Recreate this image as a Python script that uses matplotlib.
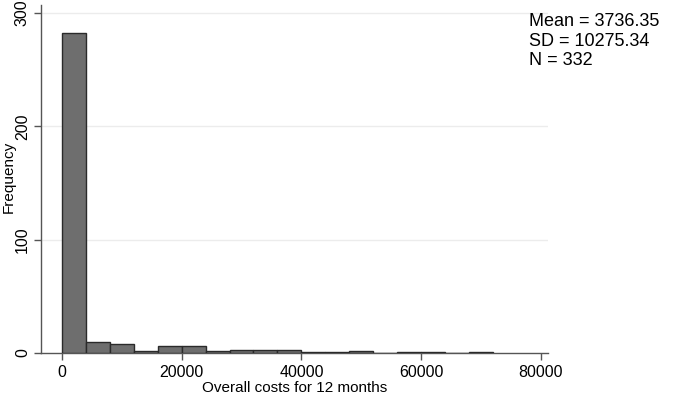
import matplotlib
matplotlib.use("Agg")
import matplotlib.pyplot as plt
import numpy as np

bin_edges = [0, 4000, 8000, 12000, 16000, 20000, 24000, 28000, 32000, 36000,
             40000, 44000, 48000, 52000, 56000, 60000, 64000, 68000, 72000]
counts = [282, 10, 8, 2, 6, 6, 2, 3, 3, 3, 1, 1, 2, 0, 1, 1, 0, 1]
xticks = [0, 20000, 40000, 60000, 80000]
yticks = [0, 100, 200, 300]
stats_text = "Mean = 3736.35\nSD = 10275.34\nN = 332"

plt.rcParams['font.family'] = ['Liberation Sans', 'DejaVu Sans']

fig = plt.figure(figsize=(6.85, 3.95), dpi=100)
ax = fig.add_axes([41/685, 1-353/395, (548-41)/685, (353-5)/395])

lefts = bin_edges[:-1]
widths = np.diff(bin_edges)
ax.bar(lefts, counts, width=widths, align='edge', color='#6e6e6e',
       edgecolor='#2a2a2a', linewidth=1.0, zorder=3)

ax.set_xlim(-3500, 81200)
ax.set_ylim(0, 307)
ax.set_xticks(xticks)
ax.set_yticks(yticks)
ax.set_yticklabels([str(v) for v in yticks], rotation=90, va='center')
ax.tick_params(axis='both', labelsize=11.5, color='#555555', length=5, width=1)
ax.tick_params(axis='y', pad=3)
for y in yticks[1:]:
    ax.axhline(y, color='#ececec', linewidth=1, zorder=1)
for s in ['top', 'right']:
    ax.spines[s].set_visible(False)
for s in ['left', 'bottom']:
    ax.spines[s].set_color('#555555')
    ax.spines[s].set_linewidth(1)

ax.set_xlabel("Overall costs for 12 months", fontsize=11, labelpad=1)
ax.set_ylabel("Frequency", fontsize=11, va='center')
ax.yaxis.set_label_coords((9 - 41) / 507, 0.505)

fig.text(529/685, 1-13/395, stats_text, fontsize=13, va='top', ha='left',
         linespacing=1.2)

fig.savefig("out.png", dpi=100)
